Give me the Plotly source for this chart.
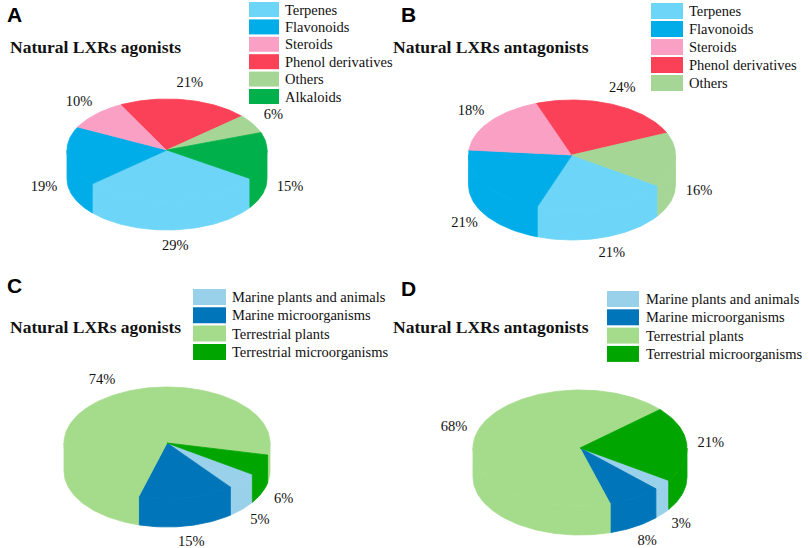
import numpy as np
import plotly.graph_objects as go

# ---------------- data ----------------
a_categories = ["Terpenes", "Flavonoids", "Steroids", "Phenol derivatives", "Others", "Alkaloids"]
a_values = [29, 19, 10, 21, 6, 15]
a_colors = ["#6DD5F7", "#00ADE9", "#F9A0C4", "#FB4157", "#A6D695", "#00B04A"]

b_categories = ["Terpenes", "Flavonoids", "Steroids", "Phenol derivatives", "Others"]
b_values = [21, 21, 18, 24, 16]
b_colors = ["#6DD5F7", "#00ADE9", "#F9A0C4", "#FB4157", "#A6D695"]

c_categories = ["Marine plants and animals", "Marine microorganisms", "Terrestrial plants", "Terrestrial microorganisms"]
c_values = [5, 15, 74, 6]
c_colors = ["#99D0EA", "#0075B9", "#A5DC8C", "#00A500"]

d_categories = ["Marine plants and animals", "Marine microorganisms", "Terrestrial plants", "Terrestrial microorganisms"]
d_values = [3, 8, 68, 21]
d_colors = ["#99D0EA", "#0075B9", "#A5DC8C", "#00A500"]

panel_letters = ["A", "B", "C", "D"]
panel_titles = ["Natural LXRs agonists", "Natural LXRs antagonists",
                "Natural LXRs agonists", "Natural LXRs antagonists"]

# ---------------- layout (pixel geometry of each panel) ----------------
W, H = 809, 548
START = -34.0  # leading edge of first slice (deg), slices run clockwise
SERIF = "Liberation Serif, Times New Roman, serif"
SANS = "Liberation Sans, Arial, sans-serif"

panels = [
    dict(cats=a_categories, vals=a_values, cols=a_colors, cx=167, cy=150, rx=100, ry=51, depth=29,
         letter=(5, 14), title=(8, 47), leg_box=(249, 279), leg_y0=9.5, leg_dy=17.4, leg_h=15, leg_tx=283),
    dict(cats=b_categories, vals=b_values, cols=b_colors, cx=572, cy=155, rx=103.5, ry=55, depth=30,
         letter=(399, 14), title=(391, 47), leg_box=(651, 683), leg_y0=11, leg_dy=18, leg_h=16, leg_tx=687),
    dict(cats=c_categories, vals=c_values, cols=c_colors, cx=167, cy=443, rx=103, ry=56, depth=28,
         letter=(5, 285), title=(8, 327), leg_box=(193, 226), leg_y0=297, leg_dy=18.3, leg_h=16, leg_tx=230),
    dict(cats=d_categories, vals=d_values, cols=d_colors, cx=580, cy=448, rx=107, ry=58, depth=29,
         letter=(399, 288), title=(391, 327), leg_box=(607, 639), leg_y0=299, leg_dy=18.3, leg_h=16, leg_tx=644),
]


def arc(p, a_from, a_to, drop=0.0, n=None):
    if n is None:
        n = max(3, int(abs(a_to - a_from) / 1.5) + 2)
    t = np.radians(np.linspace(a_from, a_to, n))
    return list(p["cx"] + p["rx"] * np.cos(t)), list(p["cy"] - p["ry"] * np.sin(t) + drop)


fig = go.Figure()
shapes = []
annotations = []

for idx, p in enumerate(panels):
    total = float(sum(p["vals"]))
    cum = 0.0
    lab_x, lab_y, lab_t = [], [], []
    for cat, v, col in zip(p["cats"], p["vals"], p["cols"]):
        s = START - 360.0 * cum / total
        e = s - 360.0 * v / total
        cum += v
        # visible side wall (front half of the cylinder)
        for k in (0, 1):
            lo = max(e, -180.0 - 360.0 * k)
            hi = min(s, -360.0 * k)
            if hi > lo:
                tx, ty = arc(p, hi, lo)
                bx, by = arc(p, lo, hi, drop=p["depth"])
                fig.add_trace(go.Scatter(x=tx + bx + [tx[0]], y=ty + by + [ty[0]], mode="lines",
                                         fill="toself", fillcolor=col, line=dict(color=col, width=0.8),
                                         hoverinfo="skip", showlegend=False))
        # top face wedge
        ax, ay = arc(p, s, e)
        fig.add_trace(go.Scatter(x=[p["cx"]] + ax + [p["cx"]], y=[p["cy"]] + ay + [p["cy"]],
                                 mode="lines", fill="toself", fillcolor=col,
                                 line=dict(color=col, width=0.8), name=cat,
                                 hoverinfo="name", showlegend=False))
        # percentage label
        m = np.radians((s + e) / 2.0)
        c, sn = np.cos(m), np.sin(m)
        lab_x.append(p["cx"] + p["rx"] * c + 24 * c)
        lab_y.append(p["cy"] - p["ry"] * sn - 17 * sn + (p["depth"] if sn < 0 else 0))
        lab_t.append(f"{v}%")
    fig.add_trace(go.Scatter(x=lab_x, y=lab_y, text=lab_t, mode="text", textposition="middle center",
                             textfont=dict(family=SERIF, size=14.5, color="#111111"),
                             hoverinfo="skip", showlegend=False))

    # legend (swatches + labels)
    x0, x1 = p["leg_box"]
    for j, (cat, col) in enumerate(zip(p["cats"], p["cols"])):
        yc = p["leg_y0"] + j * p["leg_dy"]
        shapes.append(dict(type="rect", xref="x", yref="y", x0=x0, x1=x1,
                           y0=yc - p["leg_h"] / 2, y1=yc + p["leg_h"] / 2,
                           fillcolor=col, line=dict(width=0), layer="above"))
        annotations.append(dict(xref="x", yref="y", x=p["leg_tx"], y=yc, text=cat, showarrow=False,
                                xanchor="left", yanchor="middle",
                                font=dict(family=SERIF, size=14.5, color="#111111")))

    # panel letter and title
    lx, ly = p["letter"]
    annotations.append(dict(xref="x", yref="y", x=lx, y=ly, text=f"<b>{panel_letters[idx]}</b>",
                            showarrow=False, xanchor="left", yanchor="middle",
                            font=dict(family=SANS, size=21, color="#000000")))
    tx_, ty_ = p["title"]
    annotations.append(dict(xref="x", yref="y", x=tx_, y=ty_, text=f"<b>{panel_titles[idx]}</b>",
                            showarrow=False, xanchor="left", yanchor="middle",
                            font=dict(family=SERIF, size=17.5, color="#111111")))

fig.update_layout(
    width=W, height=H,
    margin=dict(l=0, r=0, t=0, b=0),
    paper_bgcolor="white", plot_bgcolor="white",
    showlegend=False,
    xaxis=dict(range=[0, W], visible=False, fixedrange=True, domain=[0, 1]),
    yaxis=dict(range=[H, 0], visible=False, fixedrange=True, domain=[0, 1]),
    shapes=shapes,
    annotations=annotations,
)

# remove the browser's default 8px page margin so the figure fills the window exactly
fig.write_html("out.html",
               config={"displayModeBar": False},
               post_script="document.body.style.margin='0px';document.body.style.overflow='hidden';")
